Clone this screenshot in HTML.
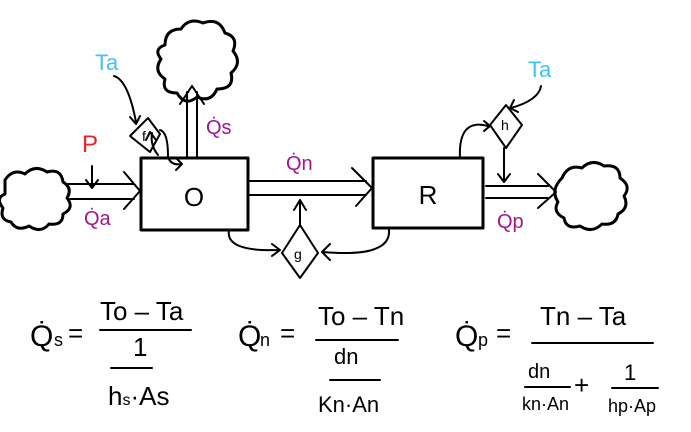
<!DOCTYPE html>
<html><head><meta charset="utf-8">
<style>
html,body{margin:0;padding:0;background:#fff;}
svg{display:block;}
text{font-family:"Liberation Sans",sans-serif;}
.s{stroke:#000;stroke-width:3;fill:none;stroke-linecap:round;stroke-linejoin:round;}
.t{stroke:#000;stroke-width:2;fill:none;stroke-linecap:round;stroke-linejoin:round;}
.m{fill:#a0168c;font-size:20px;}
.c{fill:#3fc4ef;font-size:22px;}
.f{font-size:26px;fill:#000;}
</style></head>
<body>
<svg width="691" height="432" viewBox="0 0 691 432">
<!-- clouds -->
<path class="s" d="M5,180 q8,-12 20,-6 q10,-10 22,-2 q14,-4 16,10 q10,6 4,16 q8,10 -4,16 q0,12 -14,10 q-8,10 -20,2 q-12,6 -18,-4 q-12,-2 -8,-14 q-8,-10 2,-14 z"/>
<path class="s" d="M165,45 q0,-16 16,-16 q8,-12 22,-6 q16,-6 22,10 q14,4 8,18 q10,12 -2,22 q4,16 -14,16 q-6,14 -20,8 q-12,10 -20,-4 q-16,0 -12,-14 q-12,-8 -4,-20 q-8,-10 4,-14 z"/>
<path class="s" d="M562,178 q6,-14 20,-10 q10,-10 22,-2 q16,-2 16,12 q12,8 4,18 q6,12 -6,18 q-2,12 -16,10 q-10,10 -22,2 q-14,4 -16,-8 q-12,-6 -6,-16 q-8,-12 4,-24 z"/>
<!-- boxes -->
<rect class="s" x="141" y="158" width="107" height="72"/>
<text x="194" y="206" class="f" text-anchor="middle" font-size="30">O</text>
<rect class="s" x="373" y="158" width="110" height="70"/>
<text x="428" y="204" class="f" text-anchor="middle" font-size="30">R</text>
<!-- inflow arrow -->
<g>
<path class="t" d="M68,184 L134,184 M68,199 L134,199 M124,172 L140,191 L124,209"/>
</g>
<text x="82" y="152" fill="#e8242a" font-size="24">P</text>
<path class="t" d="M92,166 L92,188 M86,180 L92,188 L98,180"/>
<text x="84" y="225" class="m">Q̇a</text>
<!-- up flow -->
<path class="t" d="M187,156 L187,92 M197,156 L197,92 M180,104 L192,86 L204,104"/>
<text x="206" y="134" class="m">Q̇s</text>
<text x="95" y="70" class="c">Ta</text>
<path class="t" d="M114,76 q14,4 22,46 M130,117 L136,124 L140,116"/>
<path class="t" d="M148,118 L160,134 L150,152 L130,136 z"/>
<text x="142" y="141" font-size="14">f</text>
<path class="t" d="M158,155 q-8,-10 -6,-22 M146,140 L150,132 L156,140 M160,130 q8,2 8,26 q2,10 14,8 M176,158 L182,164 L176,170"/>
<!-- Qn arrow -->
<path class="t" d="M250,181 L366,181 M250,195 L366,195 M352,168 L372,188 L356,206"/>
<text x="286" y="170" class="m">Q̇n</text>
<!-- g -->
<path class="t" d="M300,225 L318,253 L300,278 L282,253 z"/>
<text x="294" y="259" font-size="14">g</text>
<path class="t" d="M300,226 L300,200 M294,210 L300,200 L306,210"/>
<path class="t" d="M229,230 q-4,22 50,20 M272,244 L280,250 L272,256"/>
<path class="t" d="M389,230 q2,28 -66,22 M330,244 L322,252 L330,260"/>
<!-- h -->
<path class="t" d="M506,105 L522,125 L506,148 L490,125 z"/>
<text x="501" y="130" font-size="14">h</text>
<path class="t" d="M460,158 q-2,-40 28,-32 M484,121 L490,126 L484,131"/>
<text x="528" y="77" class="c">Ta</text>
<path class="t" d="M541,86 q-2,14 -30,22 M514,100 L510,108 L518,112"/>
<path class="t" d="M504,148 L504,182 M498,174 L504,182 L510,174"/>
<path class="t" d="M486,186 L548,186 M486,198 L548,198 M538,174 L556,192 L538,208"/>
<text x="497" y="228" class="m">Q̇p</text>
<!-- formulas -->
<g class="f">
<text x="30" y="346" font-size="30">Q̇</text><text x="54" y="346" font-size="18">s</text>
<text x="68" y="342">=</text>
<text x="100" y="320">To – Ta</text>
<line class="t" x1="100" y1="330" x2="191" y2="330"/>
<text x="133" y="356">1</text>
<line class="t" x1="111" y1="368" x2="152" y2="368"/>
<text x="108" y="405">h<tspan font-size="16">s</tspan>·As</text>
</g>
<g class="f">
<text x="238" y="346" font-size="30">Q̇</text><text x="260" y="346" font-size="18">n</text>
<text x="280" y="342">=</text>
<text x="318" y="325">To – Tn</text>
<line class="t" x1="316" y1="340" x2="398" y2="340"/>
<text x="334" y="364" font-size="22">dn</text>
<line class="t" x1="330" y1="380" x2="380" y2="380"/>
<text x="318" y="412" font-size="22">Kn·An</text>
</g>
<g class="f">
<text x="455" y="346" font-size="30">Q̇</text><text x="478" y="346" font-size="18">p</text>
<text x="496" y="342">=</text>
<text x="540" y="325">Tn – Ta</text>
<line class="t" x1="532" y1="343" x2="653" y2="343"/>
<text x="528" y="378" font-size="20">dn</text>
<line class="t" x1="525" y1="387" x2="570" y2="387"/>
<text x="522" y="410" font-size="18">kn·An</text>
<text x="574" y="394">+</text>
<text x="624" y="380" font-size="22">1</text>
<line class="t" x1="612" y1="388" x2="658" y2="388"/>
<text x="608" y="412" font-size="18">hp·Ap</text>
</g>
</svg>
</body></html>
